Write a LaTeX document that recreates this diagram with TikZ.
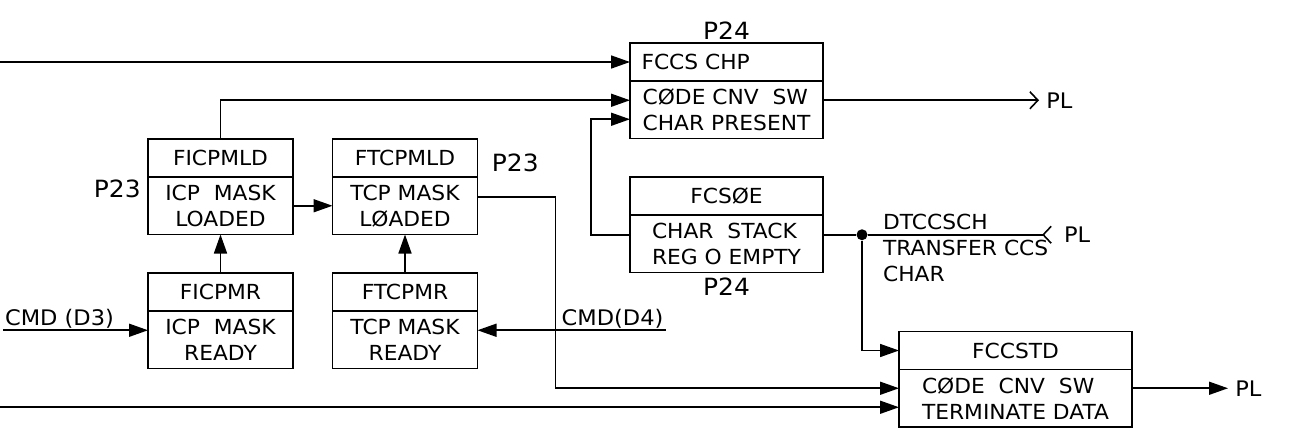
\documentclass[tikz,border=0pt]{standalone}
\usepackage{fontspec}
\setmainfont{DejaVu Sans}[FakeStretch=1.05]
\usepackage{tikz}
\usetikzlibrary{arrows.meta, positioning, calc}
\newcommand{\bxfont}{\fontsize{11.8}{14.8}\selectfont}
\newcommand{\lblfont}{\fontsize{12.2}{14.8}\selectfont}
\newcommand{\pgfont}{\fontsize{13.5}{14}\selectfont}
\tikzset{
  hdr/.style={rectangle, draw=black, line width=0.9pt, outer sep=0pt,
              inner sep=3pt, minimum height=0.76cm, font=\bxfont},
  bdy/.style={hdr, minimum height=1.15cm, align=center},
  sbox/.style={minimum width=2.9cm},
  mbox/.style={minimum width=3.86cm},
  wbox/.style={minimum width=4.66cm},
  lbl/.style={font=\lblfont, inner sep=1pt},
  pg/.style={font=\pgfont, inner sep=1pt},
  dot/.style={circle, fill=black, inner sep=0pt, minimum size=0.22cm},
  wire/.style={line width=0.9pt},
  arr/.style={-{Triangle[length=3.8mm, width=2.6mm]}, line width=0.9pt},
  barb/.style={-{Straight Barb[length=1.6mm, width=3.4mm]}, line width=0.9pt},
  rbarb/.style={-{Straight Barb[reversed, length=1.6mm, width=3.4mm]}, line width=0.9pt},
}
\begin{document}
\begin{tikzpicture}[every node/.style={font=\bxfont}]
  \useasboundingbox (0,0) rectangle (25.78,-8.68);
  % mask flags
  \node[hdr, sbox]                          (ficpmld)  at (4.41,-3.16) {FICPMLD};
  \node[bdy, sbox, below=0pt of ficpmld]    (ficpmldb) {ICP\ \ MASK\\LOADED};
  \node[hdr, sbox]                          (ftcpmld)  at (8.1,-3.16) {FTCPMLD};
  \node[bdy, sbox, below=0pt of ftcpmld]    (ftcpmldb) {TCP MASK\\LØADED};
  \node[hdr, sbox]                          (ficpmr)   at (4.41,-5.84) {FICPMR};
  \node[bdy, sbox, below=0pt of ficpmr]     (ficpmrb)  {ICP\ \ MASK\\READY};
  \node[hdr, sbox]                          (ftcpmr)   at (8.1,-5.84) {FTCPMR};
  \node[bdy, sbox, below=0pt of ftcpmr]     (ftcpmrb)  {TCP MASK\\READY};
  % code conversion flags
  \node[hdr, mbox, text width=3.4cm, align=left] (fccs) at (14.53,-1.24) {FCCS CHP};
  \node[bdy, mbox, align=left, below=0pt of fccs]    (fccsb)   {CØDE CNV\ \ SW\\CHAR PRESENT};
  \node[hdr, mbox]                          (fcsoe)    at (14.53,-3.92) {FCSØE};
  \node[bdy, mbox, align=left, below=0pt of fcsoe]   (fcsoeb)  {CHAR\ \ STACK\\REG O EMPTY};
  \node[hdr, wbox]                          (fccstd)   at (20.31,-7.01) {FCCSTD};
  \node[bdy, wbox, align=left, below=0pt of fccstd]  (fccstdb) {CØDE\ \ CNV\ \ SW\\TERMINATE\ DATA};

  % page refs
  \node[pg, above=1pt of fccs]                                  (p24a) {P24};
  \node[pg, below=2pt of fcsoeb]                                (p24b) {P24};
  \node[pg, left=3pt of ficpmldb.north west, yshift=-0.24cm]    (p23a) {P23};
  \node[pg, right=7pt of ftcpmld, yshift=-0.1cm]                (p23b) {P23};

  % free ends
  \coordinate (in1)  at ($(fccs.west)+(-12.6,0)$);
  \coordinate (in2)  at ($(fccstdb.west)+(-17.98,-0.18)$);
  \coordinate (cmd3) at ($(ficpmrb.west)+(-2.9,0.19)$);
  \coordinate (cmd4) at ($(ftcpmrb.east)+(3.76,0.19)$);
  \coordinate (plo1) at ($(fccsb.east)+(4.32,0.19)$);
  \coordinate (plo2) at ($(fccstdb.east)+(1.92,0.2)$);
  \node[dot] (jn) at ($(fcsoeb.east)+(0.78,0.18)$) {};
  \coordinate (plin) at ($(jn)+(3.8,0)$);

  \draw[arr] (in1) -- (fccs.west);
  \draw[arr] (ficpmld.north) |- ($(fccsb.west)+(0,0.19)$);
  \draw[arr] ($(fcsoeb.west)+(0,0.18)$) -- ++(-0.78,0) |- ($(fccsb.west)+(0,-0.19)$);
  \draw[barb] ($(fccsb.east)+(0,0.19)$) -- (plo1);
  \node[lbl, right=3pt of plo1] (pl1) {PL};

  \draw[arr] (ficpmldb) -- (ftcpmldb);
  \draw[arr] (ficpmr) -- (ficpmldb);
  \draw[arr] (ftcpmr) -- (ftcpmldb);
  \draw[arr] (cmd3) -- ($(ficpmrb.west)+(0,0.19)$);
  \node[lbl, above right=0pt and 0pt of cmd3] (cmdd3) {CMD (D3)};
  \draw[arr] (cmd4) -- ($(ftcpmrb.east)+(0,0.19)$);
  \node[lbl, above left=0pt and 0pt of cmd4] (cmdd4) {CMD(D4)};

  \draw[arr] ($(ftcpmldb.east)+(0,0.17)$) -- ++(1.56,0) |- ($(fccstdb.west)+(0,0.2)$);
  \draw[arr] (in2) -- ($(fccstdb.west)+(0,-0.18)$);
  \draw[arr] ($(fccstdb.east)+(0,0.2)$) -- (plo2);
  \node[lbl, right=3pt of plo2] (pl3) {PL};

  \draw[wire] ($(fcsoeb.east)+(0,0.18)$) -- (jn);
  \draw[arr] (jn) |- (fccstd.west);
  \draw[rbarb] (jn) -- (plin);
  \node[lbl, right=0.2cm of plin] (pl2) {PL};
  \node[inner sep=1pt, align=left, anchor=west] (dtccsch) at ($(jn)+(0.38,-0.255)$)
       {DTCCSCH\\TRANSFER CCS\\CHAR};
\end{tikzpicture}
\end{document}
